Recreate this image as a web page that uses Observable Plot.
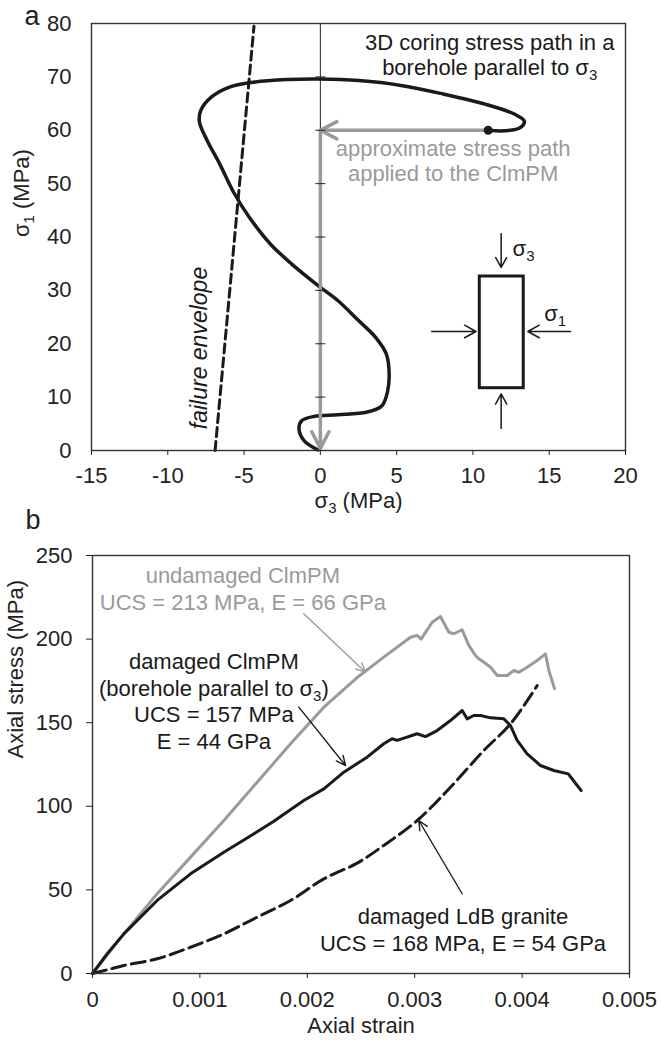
<!DOCTYPE html>
<html><head><meta charset="utf-8">
<script src="https://cdn.jsdelivr.net/npm/d3@7"></script>
<script src="https://cdn.jsdelivr.net/npm/@observablehq/plot@0.6"></script>
<style>
body{margin:0;background:#fff;}
#chart{width:661px;height:1044px;position:relative;overflow:hidden;background:#fff;}
#chart svg{display:block;}
</style></head><body><div id="chart"></div>
<script>
// ---------- Panel a data ----------
const xTicksA = [-15, -10, -5, 0, 5, 10, 15, 20];
const yTicksA = [0, 10, 20, 30, 40, 50, 60, 70, 80];
// 3D coring stress path (sigma3, sigma1) in MPa
const pathS3 = [-0.15, -1.07, -1.40, -1.21, -0.38, 1.14, 3.07, 4.04, 4.40, 4.51, 4.32, 3.62, 2.52, 1.14, -0.02, -1.62, -3.28, -4.66, -5.63, -6.6, -7.42, -7.92, -7.84, -7.15, -6.04, -4.38, -2.18, -0.02, 2.52, 5.28, 8.05, 10.8, 12.74, 13.37, 13.1, 12.1, 11.0];
const pathS1 = [0.1, 1.87, 4.06, 5.6, 6.4, 6.7, 7.2, 8.4, 11.0, 14.4, 18.1, 21.2, 24.3, 28.1, 30.6, 34.3, 38.7, 43.7, 48.1, 53.7, 58.1, 61.5, 63.7, 66.2, 68.0, 69.0, 69.5, 69.6, 69.3, 68.4, 66.8, 64.9, 63.0, 61.7, 60.5, 59.9, 60.0];
// failure envelope
const envS3 = [-6.9, -4.35];
const envS1 = [0, 79.5];
// approximate stress path applied to the ClmPM (start dot, corner, end)
const approxS3 = [11.0, 0, 0];
const approxS1 = [60, 60, 0.4];
// sample sketch: box and loading arrows
const boxS3 = [10.45, 13.33];
const boxS1 = [11.67, 32.6];
const forceFromS3 = [11.85, 11.85, 7.3, 16.4];
const forceFromS1 = [40.6, 4.1, 22.3, 22.3];
const forceToS3 = [11.85, 11.85, 10.2, 13.6];
const forceToS1 = [34.3, 10.6, 22.3, 22.3];
const sketchLabels = ["σ_3", "σ_1"];
const sketchLabelS3 = [12.6, 14.67];
const sketchLabelS1 = [37.8, 25.5];
// annotations
const notesA = ["3D coring stress path in a\nborehole parallel to σ_3", "approximate stress path\napplied to the ClmPM", "failure envelope"];
const notesAS3 = [11.1, 8.7, -7.9];
const notesAS1 = [74.2, 54.4, 19.2];

// ---------- Panel b data ----------
const xTicksB = [0, 0.001, 0.002, 0.003, 0.004, 0.005];
const xTickLabelsB = ["0", "0.001", "0.002", "0.003", "0.004", "0.005"];
const yTicksB = [0, 50, 100, 150, 200, 250];
const undamagedStrain = [0, 0.000292, 0.000602, 0.000913, 0.001223, 0.001533, 0.001844, 0.002154, 0.002464, 0.002712, 0.002961, 0.003023, 0.00306, 0.00309, 0.003163, 0.00324, 0.003318, 0.003364, 0.003442, 0.003504, 0.003566, 0.003597, 0.003644, 0.003706, 0.003768, 0.003861, 0.003923, 0.00397, 0.004047, 0.00414, 0.004218, 0.004249, 0.004302];
const undamagedStress = [0, 23.7, 47.7, 69.6, 91.5, 114.4, 137.4, 159.3, 177, 189.2, 201.1, 202.2, 200, 203, 210.1, 213.5, 204.1, 203.2, 205.5, 196.2, 190.2, 188.2, 186.2, 183.2, 178.2, 178.2, 181.2, 180.2, 183.2, 187.2, 191.2, 181.2, 170.3];
const damagedStrain = [0, 0.000137, 0.000292, 0.000602, 0.000913, 0.001223, 0.001409, 0.001688, 0.001967, 0.002154, 0.00234, 0.002557, 0.002712, 0.00279, 0.002837, 0.003023, 0.0031, 0.003209, 0.003333, 0.003442, 0.003489, 0.00355, 0.003613, 0.003706, 0.00383, 0.003892, 0.003954, 0.004047, 0.004171, 0.004295, 0.00443, 0.00449, 0.00455];
const damagedStress = [0, 11.8, 23.7, 43.7, 59.6, 72.5, 79.8, 91.0, 103.5, 110.4, 120.4, 129.4, 137.4, 140.4, 139.4, 143.4, 141.7, 145.3, 151.3, 157.3, 152.3, 154.3, 154.3, 152.9, 152.3, 148.3, 139.4, 131.4, 124.4, 121.4, 119.4, 114.4, 109.4];
const graniteStrain = [0, 0.000137, 0.000292, 0.000602, 0.000913, 0.001223, 0.001533, 0.001844, 0.002154, 0.002464, 0.002712, 0.003023, 0.003333, 0.003644, 0.003892, 0.00414];
const graniteStress = [0, 2.2, 4.8, 8.8, 15.7, 23.7, 33.7, 43.7, 56.6, 66, 76.6, 91.5, 111.4, 133.4, 149.3, 172.2];
const notesB = ["undamaged ClmPM\nUCS = 213 MPa, E = 66 GPa", "damaged ClmPM\n(borehole parallel to σ_3)\nUCS = 157 MPa\nE = 44 GPa", "damaged LdB granite\nUCS = 168 MPa, E = 54 GPa"];
const notesBStrain = [0.0014, 0.00113, 0.00345];
const notesBStress = [230.5, 163.3, 26.5];
const noteArrowFromStrain = [0.001967, 0.001921, 0.003442];
const noteArrowFromStress = [215.1, 159.3, 47.7];
const noteArrowToStrain = [0.002542, 0.002356, 0.003038];
const noteArrowToStress = [180.2, 124.4, 91.5];

// ---------- styles ----------
const FONT = "'Liberation Sans', Arial, Helvetica, sans-serif";
const BLACK = "#1a1a1a";
const GRAY = "#9a9a9a";
const zip = (xs, ys) => xs.map((x, i) => ({x, y: ys[i]}));
const segs = (xs, ys) => xs.slice(1).map((x, i) => ({x1: xs[i], y1: ys[i], x2: x, y2: ys[i + 1]}));
const hTick = {draw(ctx, size) { const r = Math.sqrt(size / Math.PI); ctx.moveTo(-r, 0); ctx.lineTo(r, 0); }};

function subscripts(svg) {
  const walker = document.createTreeWalker(svg, NodeFilter.SHOW_TEXT);
  const nodes = [];
  while (walker.nextNode()) if (/_\d/.test(walker.currentNode.nodeValue)) nodes.push(walker.currentNode);
  const NS = "http://www.w3.org/2000/svg";
  for (const node of nodes) {
    const parts = node.nodeValue.split(/_(\d)/);
    const frag = document.createDocumentFragment();
    parts.forEach((p, i) => {
      if (i % 2 === 0) {
        if (!p) return;
        if (i === 0) frag.append(document.createTextNode(p));
        else { const t = document.createElementNS(NS, "tspan"); t.setAttribute("dy", "-5"); t.textContent = p; frag.append(t); }
      } else {
        const t = document.createElementNS(NS, "tspan");
        t.setAttribute("dy", "5"); t.setAttribute("font-size", "15"); t.textContent = p; frag.append(t);
      }
    });
    node.replaceWith(frag);
  }
}

const style = {fontFamily: FONT, fontSize: "22px", color: "#222", background: "#fff", overflow: "visible"};

// ---------- Panel a ----------
const plotA = Plot.plot({
  width: 661, height: 515,
  marginLeft: 91, marginRight: 36, marginTop: 23, marginBottom: 65,
  style,
  x: {domain: [-15, 20]},
  y: {domain: [0, 80]},
  marks: [
    Plot.ruleX([0], {stroke: "#222", strokeWidth: 1}),
    Plot.line(zip(envS3, envS1), {x: "x", y: "y", stroke: BLACK, strokeWidth: 3, strokeDasharray: "9,5"}),
    Plot.line(zip(pathS3, pathS1), {x: "x", y: "y", curve: "catmull-rom", stroke: BLACK, strokeWidth: 3.5, strokeLinejoin: "round", strokeLinecap: "round"}),
    Plot.arrow(segs(approxS3, approxS1), {x1: "x1", y1: "y1", x2: "x2", y2: "y2", stroke: GRAY, strokeWidth: 3.5, headLength: 8, headAngle: 55}),
    Plot.dot([{x: approxS3[0], y: approxS1[0]}], {x: "x", y: "y", r: 4.5, fill: BLACK}),
    Plot.rect([{x1: boxS3[0], x2: boxS3[1], y1: boxS1[0], y2: boxS1[1]}], {x1: "x1", x2: "x2", y1: "y1", y2: "y2", fill: "#fff", stroke: BLACK, strokeWidth: 3}),
    Plot.arrow(forceFromS3.map((x, i) => ({x1: x, y1: forceFromS1[i], x2: forceToS3[i], y2: forceToS1[i]})), {x1: "x1", y1: "y1", x2: "x2", y2: "y2", stroke: BLACK, strokeWidth: 1.5, headLength: 13, headAngle: 58}),
    Plot.text(sketchLabels, {x: (d, i) => sketchLabelS3[i], y: (d, i) => sketchLabelS1[i], text: d => d, textAnchor: "start", fill: BLACK}),
    Plot.text(notesA.slice(0, 2), {x: (d, i) => notesAS3[i], y: (d, i) => notesAS1[i], text: d => d, lineHeight: 1.16, fill: (d, i) => i === 0 ? BLACK : GRAY}),
    Plot.text([notesA[2]], {x: () => notesAS3[2], y: () => notesAS1[2], text: d => d, rotate: -90, fontStyle: "italic", fontSize: 23, fill: BLACK}),
    Plot.dot(yTicksA, {x: () => 0, y: d => d, symbol: hTick, r: 5, fill: "none", stroke: "#222", strokeWidth: 1}),
    Plot.frame({stroke: "#333", strokeWidth: 1.4}),
    Plot.axisX(xTicksA, {tickSize: 5, tickPadding: 12, label: null, tickFormat: d => String(d)}),
    Plot.axisY(yTicksA, {tickSize: 0, tickPadding: 20, label: null}),
    Plot.text(["σ_3 (MPa)"], {frameAnchor: "bottom", dy: 57, text: d => d, fill: "#222"}),
    Plot.text(["σ_1 (MPa)"], {frameAnchor: "left", dx: -70, rotate: -90, text: d => d, fill: "#222"}),
    Plot.text(["a"], {frameAnchor: "top-left", lineAnchor: "middle", dx: -67, dy: -7, text: d => d, fontSize: 27, fill: "#222"})
  ]
});
subscripts(plotA);

// ---------- Panel b ----------
const plotB = Plot.plot({
  width: 661, height: 529,
  marginLeft: 92, marginRight: 32, marginTop: 40, marginBottom: 71,
  style,
  x: {domain: [0, 0.005]},
  y: {domain: [0, 250]},
  marks: [
    Plot.line(zip(graniteStrain, graniteStress), {x: "x", y: "y", curve: "catmull-rom", stroke: BLACK, strokeWidth: 3, strokeDasharray: "14,6"}),
    Plot.line(zip(undamagedStrain, undamagedStress), {x: "x", y: "y", stroke: GRAY, strokeWidth: 3, strokeLinejoin: "round"}),
    Plot.line(zip(damagedStrain, damagedStress), {x: "x", y: "y", stroke: BLACK, strokeWidth: 3, strokeLinejoin: "round"}),
    Plot.arrow(noteArrowFromStrain.map((x, i) => ({x1: x, y1: noteArrowFromStress[i], x2: noteArrowToStrain[i], y2: noteArrowToStress[i], i})), {x1: "x1", y1: "y1", x2: "x2", y2: "y2", stroke: d => d.i === 0 ? GRAY : BLACK, strokeWidth: 1.4, headLength: 11, headAngle: 50}),
    Plot.text(notesB, {x: (d, i) => notesBStrain[i], y: (d, i) => notesBStress[i], text: d => d, lineHeight: 1.2, fill: (d, i) => i === 0 ? GRAY : BLACK}),
    Plot.frame({stroke: "#333", strokeWidth: 1.4}),
    Plot.axisX(xTicksB, {tickSize: 5, tickPadding: 13, label: null, tickFormat: d => xTickLabelsB[xTicksB.indexOf(d)]}),
    Plot.axisY(yTicksB, {tickSize: 6, tickPadding: 14, label: null}),
    Plot.text(["Axial strain"], {frameAnchor: "bottom", dy: 59, text: d => d, fill: "#222"}),
    Plot.text(["Axial stress (MPa)"], {frameAnchor: "left", dx: -77, dy: -6, rotate: -90, text: d => d, fill: "#222"}),
    Plot.text(["b"], {frameAnchor: "top-left", lineAnchor: "middle", dx: -67, dy: -35, text: d => d, fontSize: 27, fill: "#222"})
  ]
});
subscripts(plotB);

const chart = document.getElementById("chart");
chart.append(plotA, plotB);
</script>
</body></html>
